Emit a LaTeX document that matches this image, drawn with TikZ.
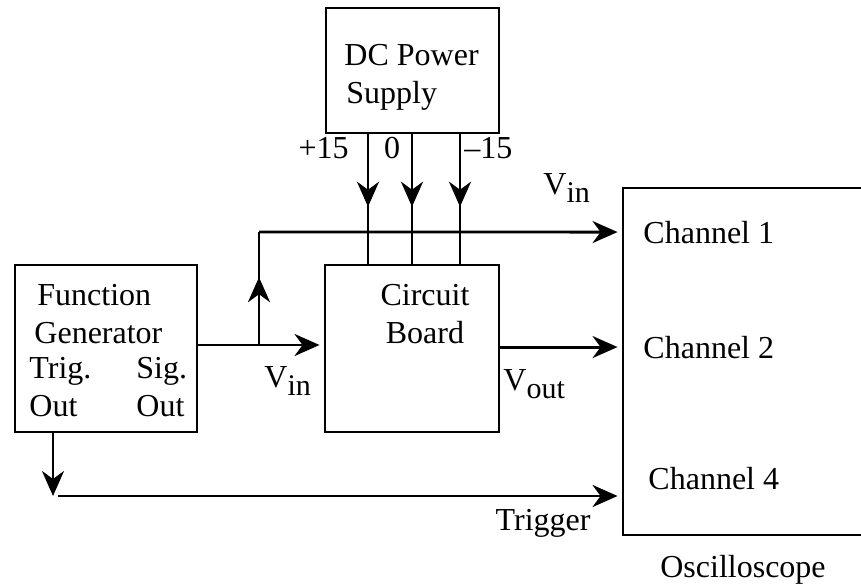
\documentclass[tikz,border=0pt]{standalone}
\usepackage{fontspec}
\setmainfont{Liberation Serif}
\usetikzlibrary{positioning}
\usetikzlibrary{arrows.meta}
\usetikzlibrary{decorations.markings}

\newcommand{\vsub}[1]{\raisebox{-8pt}{\fontsize{30}{30}\selectfont #1}}

\begin{document}
\begin{tikzpicture}[x=1pt, y=-1pt, line width=2.9pt,
    >={Stealth[length=25pt,width=22pt,inset=8pt]},
    box/.style = {draw, rectangle, inner sep=0pt},
    txt/.style = {font=\fontsize{32}{38}\selectfont, inner sep=0pt},
    arr/.style = {->, shorten >=4pt},
    midarrow/.style = {postaction={decorate},
      decoration={markings, mark=at position #1 with {\arrow{>}}}}]
          \useasboundingbox (0,0) rectangle (861,586);
          % boxes
          \node[box, minimum width=173pt, minimum height=125pt] (dc) at (412.5,70.5) {};
          \node[box, minimum width=182pt, minimum height=167pt] (fg) at (106,348.5) {};
          \node[box, minimum width=174pt, minimum height=167pt] (cb) at (412,348.5) {};
          \node[box, minimum width=277pt, minimum height=347pt] (osc) at (761.5,361.5) {};
          % box texts
          \node[txt, anchor=base west] (dc1) at (343,65) {DC Power};
          \node[txt, anchor=base west] (dc2) at (345,103) {Supply};
          \node[txt, anchor=base west] (fg1) at (36,305) {Function};
          \node[txt, anchor=base west] (fg2) at (33,343) {Generator};
          \node[txt, anchor=base west] (trig) at (28,378) {Trig.};
          \node[txt, anchor=base west] (sig) at (135,378) {Sig.};
          \node[txt, anchor=base west] (tout) at (28,416) {Out};
          \node[txt, anchor=base west] (sout) at (135,416) {Out};
          \node[txt, anchor=base] (cb1) at (425,305) {Circuit};
          \node[txt, anchor=base] (cb2) at (425,343) {Board};
          \node[txt, anchor=base west] (ch1) at (642,243) {Channel 1};
          \node[txt, anchor=base west] (ch2) at (642,358) {Channel 2};
          \node[txt, anchor=base west] (ch4) at (647,489) {Channel 4};
          \node[txt, anchor=base] (oscl) at (743,577) {Oscilloscope};
          % supply labels
          \node[txt, anchor=base east] (plus) at (350,158) {+15};
          \node[txt, anchor=base] (zero) at (392,158) {0};
          \node[txt, anchor=base west] (minus) at (463,158) {--15};
          % signal labels
          \node[txt, anchor=base west] (vinlow) at (263,387) {V\vsub{in}};
          \node[txt, anchor=base west] (vinup) at (542,194) {V\vsub{in}};
          \node[txt, anchor=base west] (vout) at (502,390) {V\vsub{out}};
          \node[txt, anchor=base east] (trg) at (592,530) {Trigger};
          % helper points
          \coordinate (xp) at (368,0);
          \coordinate (xz) at (412,0);
          \coordinate (xm) at (460,0);
          \coordinate (tap) at (259,345);
          \coordinate (bend) at (259,232);
          \coordinate (corner) at (53,496);
          \coordinate (start) at (58,496);
          % supply lines
          \draw[midarrow=0.56] (dc.south -| xp) -- (cb.north -| xp);
          \draw[midarrow=0.56] (dc.south -| xz) -- (cb.north -| xz);
          \draw[midarrow=0.56] (dc.south -| xm) -- (cb.north -| xm);
          % signal lines
          \draw[arr] (fg.east |- tap) -- (cb.west |- tap);
          \draw[midarrow=0.6] (tap) -- (bend);
          \draw[arr] (bend) -- (osc.west |- ch1.west);
          \draw[arr] (cb.east |- ch2.west) -- (osc.west |- ch2.west);
          \draw[->] (fg.south -| corner) -- (corner);
          \draw[arr] (start) -- (osc.west |- start);
        \end{tikzpicture}
\end{document}
